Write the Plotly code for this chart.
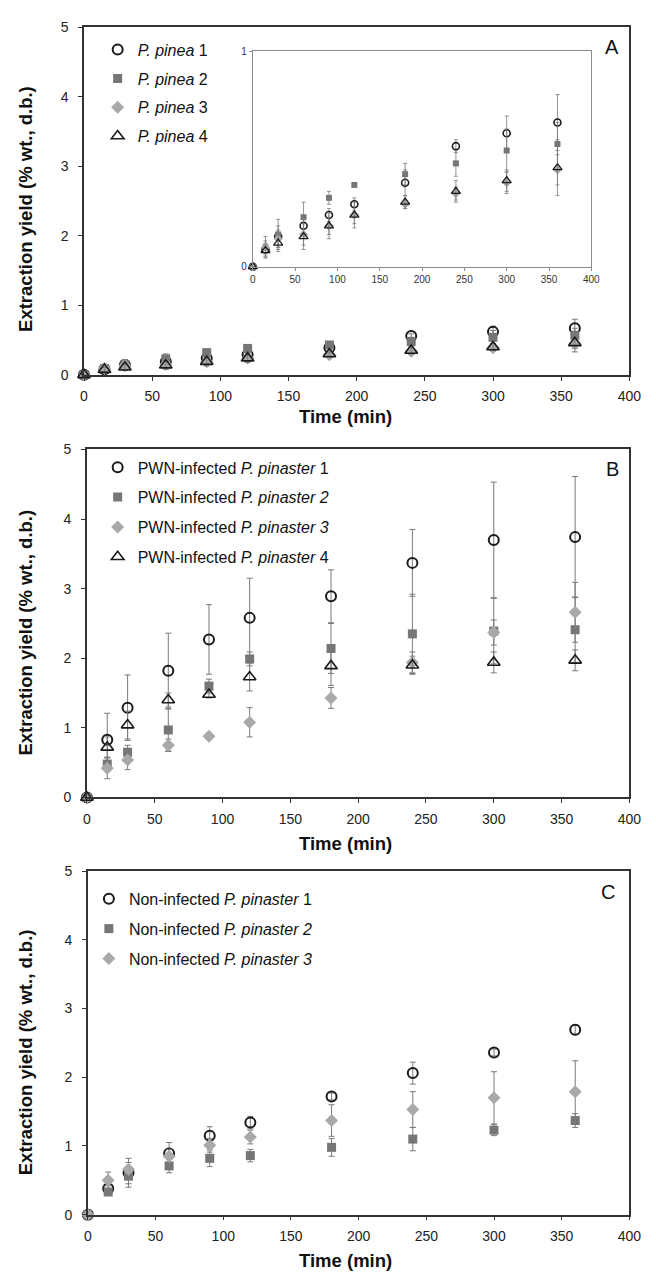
import plotly.graph_objects as go

W, H = 656, 1277

# ---------------- data ----------------
time_min = [0, 15, 30, 60, 90, 120, 180, 240, 300, 360]

# Panel A: P. pinea
pinea1 = [0, 0.08, 0.14, 0.19, 0.24, 0.29, 0.39, 0.56, 0.62, 0.67]
pinea1_err = [0, 0.03, 0.05, 0.04, 0.03, 0.03, 0.06, 0.03, 0.08, 0.13]
pinea2 = [0, 0.09, 0.15, 0.23, 0.32, 0.38, 0.43, 0.48, 0.54, 0.57]
pinea2_err = [0, 0.05, 0.07, 0.07, 0.03, 0.0, 0.05, 0.06, 0.10, 0.10]
pinea3 = [0, 0.09, 0.13, 0.15, 0.19, 0.24, 0.29, 0.34, 0.39, 0.45]
pinea3_err = [0, 0.03, 0.04, 0.05, 0.04, 0.04, 0.02, 0.03, 0.05, 0.07]
pinea4 = [0, 0.075, 0.11, 0.14, 0.19, 0.24, 0.30, 0.35, 0.40, 0.46]
pinea4_err = [0, 0.03, 0.04, 0.06, 0.06, 0.06, 0.03, 0.05, 0.05, 0.13]

# Panel B: PWN-infected P. pinaster
pwn1 = [0, 0.83, 1.29, 1.82, 2.27, 2.58, 2.89, 3.37, 3.70, 3.74]
pwn1_err = [0, 0.38, 0.47, 0.54, 0.50, 0.57, 0.38, 0.48, 0.83, 0.87]
pwn2 = [0, 0.48, 0.65, 0.97, 1.60, 1.99, 2.14, 2.35, 2.39, 2.41]
pwn2_err = [0, 0.10, 0.10, 0.30, 0.10, 0.10, 0.36, 0.57, 0.47, 0.47]
pwn3 = [0, 0.42, 0.54, 0.75, 0.88, 1.08, 1.43, 1.94, 2.37, 2.66]
pwn3_err = [0, 0.15, 0.14, 0.09, 0.03, 0.21, 0.15, 0.15, 0.18, 0.43]
pwn4 = [0, 0.72, 1.04, 1.40, 1.48, 1.73, 1.89, 1.90, 1.94, 1.97]
pwn4_err = [0, 0.15, 0.20, 0.10, 0.05, 0.20, 0.28, 0.13, 0.15, 0.15]

# Panel C: Non-infected P. pinaster
non1 = [0, 0.38, 0.61, 0.89, 1.15, 1.34, 1.72, 2.06, 2.36, 2.69]
non1_err = [0, 0.04, 0.21, 0.16, 0.13, 0.09, 0.05, 0.16, 0.05, 0.07]
non2 = [0, 0.33, 0.56, 0.71, 0.82, 0.86, 0.98, 1.10, 1.23, 1.37]
non2_err = [0, 0.05, 0.11, 0.10, 0.12, 0.09, 0.13, 0.17, 0.08, 0.10]
non3 = [0, 0.50, 0.66, 0.85, 1.01, 1.13, 1.37, 1.53, 1.70, 1.79]
non3_err = [0, 0.12, 0.10, 0.10, 0.10, 0.10, 0.23, 0.26, 0.38, 0.45]

names_A = ["<i>P. pinea</i> 1", "<i>P. pinea</i> 2", "<i>P. pinea</i> 3", "<i>P. pinea</i> 4"]
names_B = ["PWN-infected <i>P. pinaster</i> 1", "PWN-infected <i>P. pinaster 2</i>",
           "PWN-infected <i>P. pinaster 3</i>", "PWN-infected <i>P. pinaster</i> 4"]
names_C = ["Non-infected <i>P. pinaster</i> 1", "Non-infected <i>P. pinaster 2</i>",
           "Non-infected <i>P. pinaster 3</i>"]

# ---------------- styles ----------------
FONT = "Liberation Sans, Arial, sans-serif"
styles = [
    dict(symbol="circle-open", size=10, color="#1a1a1a", line=dict(width=2, color="#1a1a1a")),
    dict(symbol="square", size=9, color="#767676", line=dict(width=0)),
    dict(symbol="diamond", size=10, color="#a9a9a9", line=dict(width=0)),
    dict(symbol="triangle-up-open", size=11, color="#1a1a1a", line=dict(width=1.6, color="#1a1a1a")),
]
ERRC = "#7a7a7a"


def ydom(top, bottom):
    return [1 - bottom / H, 1 - top / H]


def xdom(left, right):
    return [left / W, right / W]


fig = go.Figure()

panels = [
    ("A", [pinea1, pinea2, pinea3, pinea4], [pinea1_err, pinea2_err, pinea3_err, pinea4_err], names_A,
     xdom(82, 641), ydom(19.5, 371.5), "legend"),
    ("B", [pwn1, pwn2, pwn3, pwn4], [pwn1_err, pwn2_err, pwn3_err, pwn4_err], names_B,
     xdom(85, 641), ydom(447, 799.5), "legend2"),
    ("C", [non1, non2, non3], [non1_err, non2_err, non3_err], names_C,
     xdom(86, 641), ydom(874, 1222), "legend3"),
]

axis_common = dict(showgrid=False, zeroline=False, showline=True, linecolor="#333333", linewidth=1.5,
                   mirror=True, ticks="outside", ticklen=4, tickwidth=1.2, tickcolor="#333333",
                   tickfont=dict(size=14, color="#222222", family=FONT))

for i, (letter, series, errs, names, xd, yd, leg) in enumerate(panels):
    k = i + 1
    xa = "x" if k == 1 else f"x{k}"
    ya = "y" if k == 1 else f"y{k}"
    for j, (vals, err, nm) in enumerate(zip(series, errs, names)):
        st = styles[j]
        fig.add_trace(go.Scatter(
            x=time_min, y=vals, mode="markers", name=nm, xaxis=xa, yaxis=ya,
            legend=leg, legendgroup=f"{letter}{j}",
            marker=dict(symbol=st["symbol"], size=st["size"], color=st["color"], line=st["line"]),
            error_y=dict(type="data", array=err, visible=True, color=ERRC, thickness=1, width=3),
            cliponaxis=False,
        ))
    xkey = "xaxis" if k == 1 else f"xaxis{k}"
    ykey = "yaxis" if k == 1 else f"yaxis{k}"
    fig.update_layout(**{
        xkey: dict(axis_common, domain=xd, anchor=ya, range=[0, 400], tick0=0, dtick=50,
                   ticklabelstandoff=4),
        ykey: dict(axis_common, domain=yd, anchor=xa, range=[0, 5], tick0=0, dtick=1,
                   ticklabelstandoff=7),
    })
    # inner half of crossing tick marks
    fig.update_layout(**{
        f"xaxis{k + 4}": dict(overlaying=xa, anchor=ya, range=[0, 400], tick0=0, dtick=50, ticks="inside",
                              ticklen=4, tickwidth=1.2, tickcolor="#333333", showticklabels=False,
                              showline=False, showgrid=False, zeroline=False, side="bottom"),
        f"yaxis{k + 4}": dict(overlaying=ya, anchor=xa, range=[0, 5], tick0=0, dtick=1, ticks="inside",
                              ticklen=4, tickwidth=1.2, tickcolor="#333333", showticklabels=False,
                              showline=False, showgrid=False, zeroline=False, side="left"),
    })

# ---------------- inset in panel A ----------------
for j, (vals, err) in enumerate(zip([pinea1, pinea2, pinea3, pinea4],
                                    [pinea1_err, pinea2_err, pinea3_err, pinea4_err])):
    st = styles[j]
    fig.add_trace(go.Scatter(
        x=time_min, y=vals, mode="markers", showlegend=False, xaxis="x10", yaxis="y10",
        marker=dict(symbol=st["symbol"], size=st["size"] - 3, color=st["color"],
                    line=dict(width=st["line"]["width"] * 0.8, color=st["color"])),
        error_y=dict(type="data", array=err, visible=True, color=ERRC, thickness=0.8, width=2),
        cliponaxis=False,
    ))

fig.update_layout(
    xaxis10=dict(domain=xdom(255, 602), anchor="y10", range=[0, 400], tick0=0, dtick=50,
                 showgrid=False, zeroline=False, showline=True, linecolor="#8c8c8c", linewidth=1,
                 mirror=True, ticks="outside", ticklen=3, tickcolor="#8c8c8c",
                 tickfont=dict(size=10, color="#333333", family=FONT)),
    yaxis10=dict(domain=ydom(44, 262), anchor="x10", range=[0, 1], tickvals=[0, 1],
                 showgrid=False, zeroline=False, showline=True, linecolor="#8c8c8c", linewidth=1,
                 mirror=True, ticks="outside", ticklen=3, tickcolor="#8c8c8c",
                 tickfont=dict(size=10, color="#333333", family=FONT)),
)

# ---------------- legends ----------------
leg_common = dict(xanchor="left", yanchor="top", bgcolor="rgba(0,0,0,0)", borderwidth=0,
                  font=dict(size=16, color="#111111", family=FONT), tracegroupgap=6,
                  itemsizing="trace")
fig.update_layout(
    legend=dict(leg_common, x=96 / W, y=1 - 25 / H, tracegroupgap=5),
    legend2=dict(leg_common, x=96 / W, y=1 - 448 / H),
    legend3=dict(leg_common, x=87 / W, y=1 - 885 / H),
)

# ---------------- titles and letters ----------------
ann = []
title_font = dict(size=18.5, color="#111111", family=FONT)
for (cy, ty) in [(203, 414), (632, 846), (1057, 1268)]:
    ann.append(dict(text="<b>Extraction yield (% wt., d.b.)</b>", x=22 / W, y=1 - cy / H,
                    xref="paper", yref="paper", showarrow=False, textangle=-90,
                    xanchor="center", yanchor="middle", font=title_font))
    ann.append(dict(text="<b>Time (min)</b>", x=350 / W, y=1 - ty / H, xref="paper", yref="paper",
                    showarrow=False, xanchor="center", yanchor="middle",
                    font=dict(size=18.5, color="#111111", family=FONT)))
for (lt, lx, ly) in [("A", 623, 40), ("B", 624, 467), ("C", 619, 895)]:
    ann.append(dict(text=lt, x=lx / W, y=1 - ly / H, xref="paper", yref="paper", showarrow=False,
                    xanchor="center", yanchor="middle", font=dict(size=20, color="#111111", family=FONT)))

fig.update_layout(
    width=W, height=H, margin=dict(l=0, r=0, t=0, b=0),
    paper_bgcolor="white", plot_bgcolor="white",
    font=dict(family=FONT, color="#111111"),
    annotations=ann,
)

fig.write_html("out.html", config={"displayModeBar": False},
               post_script="document.body.style.margin='0px';")
